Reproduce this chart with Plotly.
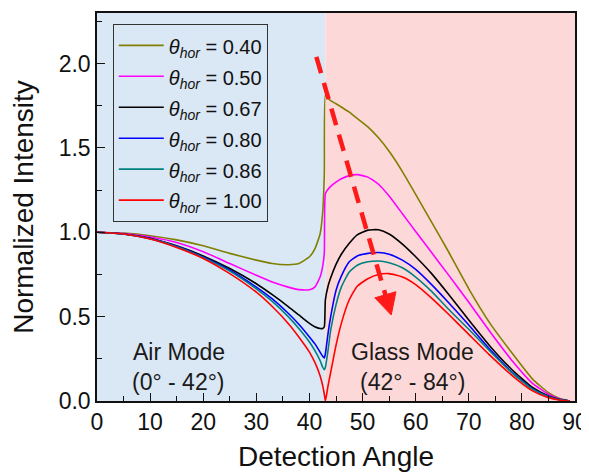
import plotly.graph_objects as go

# ---------------- data ----------------
angle = [0, 5, 10, 15, 20, 25, 30, 33, 36, 38, 40, 41, 42, 42.5, 42.8, 43.0,
         43.5, 44, 45, 46, 47.5, 49, 51, 53, 55, 57.5, 60, 63, 66, 70, 74, 78,
         82, 85, 87, 89]

theta_040 = [1.0, 0.995, 0.98, 0.955, 0.92, 0.875, 0.835, 0.815, 0.808, 0.815, 0.855, 0.90, 0.99, 1.12, 1.35, 1.815,
             1.795, 1.78, 1.762, 1.743, 1.712, 1.675, 1.625, 1.56, 1.48, 1.36, 1.225, 1.06, 0.895, 0.665, 0.46, 0.29,
             0.13, 0.05, 0.017, 0.0]
theta_050 = [1.0, 0.993, 0.972, 0.94, 0.885, 0.815, 0.745, 0.705, 0.675, 0.66, 0.66, 0.675, 0.735, 0.80, 0.88, 1.23,
             1.255, 1.272, 1.297, 1.317, 1.336, 1.342, 1.327, 1.285, 1.215, 1.11, 1.005, 0.88, 0.755, 0.585, 0.41, 0.245,
             0.105, 0.04, 0.013, 0.0]
theta_067 = [1.0, 0.99, 0.965, 0.92, 0.86, 0.785, 0.695, 0.63, 0.56, 0.51, 0.46, 0.44, 0.43, 0.43, 0.44, 0.60,
             0.68, 0.73, 0.81, 0.87, 0.935, 0.985, 1.013, 1.015, 0.99, 0.93, 0.855, 0.755, 0.64, 0.48, 0.325, 0.19,
             0.08, 0.03, 0.01, 0.0]
theta_080 = [1.0, 0.99, 0.963, 0.917, 0.853, 0.775, 0.675, 0.605, 0.52, 0.455, 0.38, 0.34, 0.29, 0.265, 0.255, 0.28,
             0.40, 0.50, 0.655, 0.74, 0.825, 0.86, 0.875, 0.88, 0.87, 0.835, 0.78, 0.69, 0.59, 0.45, 0.305, 0.175,
             0.072, 0.026, 0.009, 0.0]
theta_086 = [1.0, 0.99, 0.962, 0.915, 0.85, 0.77, 0.665, 0.59, 0.50, 0.43, 0.35, 0.30, 0.24, 0.20, 0.185, 0.20,
             0.30, 0.42, 0.57, 0.675, 0.765, 0.805, 0.825, 0.83, 0.82, 0.79, 0.735, 0.65, 0.55, 0.425, 0.295, 0.17,
             0.07, 0.025, 0.008, 0.0]
theta_100 = [1.0, 0.99, 0.96, 0.91, 0.845, 0.755, 0.645, 0.56, 0.46, 0.38, 0.29, 0.23, 0.15, 0.09, 0.04, 0.0,
             0.09, 0.17, 0.33, 0.46, 0.60, 0.68, 0.725, 0.75, 0.755, 0.735, 0.69, 0.61, 0.52, 0.395, 0.27, 0.155,
             0.06, 0.02, 0.006, 0.0]

series_values = [theta_040, theta_050, theta_067, theta_080, theta_086, theta_100]
series_labels = ["0.40", "0.50", "0.67", "0.80", "0.86", "1.00"]
series_colors = ["#808000", "#ff00ff", "#000000", "#0000ff", "#008080", "#ff0000"]

critical_angle = 43.0
x_range = [0, 90]
y_range = [0, 2.3]

# ---------------- layout geometry ----------------
# the page body adds an 8px offset, so the figure is 8px smaller than the window
W, H = 581, 464
ML, MR, MT, MB = 89, 14, 5, 71
PW, PH = W - ML - MR, H - MT - MB
FONT = "Liberation Sans, Arial, sans-serif"


def px_to_data(px, py):
    x = x_range[0] + (px - ML) / PW * (x_range[1] - x_range[0])
    y = y_range[0] + (MT + PH - py) / PH * (y_range[1] - y_range[0])
    return x, y


def data_to_px(x, y):
    px = ML + (x - x_range[0]) / (x_range[1] - x_range[0]) * PW
    py = MT + PH - (y - y_range[0]) / (y_range[1] - y_range[0]) * PH
    return px, py


fig = go.Figure()
for vals, lab, col in zip(series_values, series_labels, series_colors):
    fig.add_trace(go.Scatter(
        x=angle, y=vals, mode="lines",
        line=dict(color=col, width=1.6, shape="spline", smoothing=0.5),
        name=(f'<span style="font-size:20px"><i>θ</i><sub><i>hor</i></sub>'
              f' = {lab}</span>'),
    ))

# background regions
fig.add_shape(type="rect", xref="x", yref="y", x0=x_range[0], x1=critical_angle,
              y0=y_range[0], y1=y_range[1], fillcolor="#dae7f4", line_width=0, layer="below")
fig.add_shape(type="rect", xref="x", yref="y", x0=critical_angle, x1=x_range[1],
              y0=y_range[0], y1=y_range[1], fillcolor="#fdd8d8", line_width=0, layer="below")

# dashed red arrow
arrow_start = (41.3, 2.04)
arrow_tip = (55.4, 0.51)
sx, sy = data_to_px(*arrow_start)
tx, ty = data_to_px(*arrow_tip)
dx, dy = tx - sx, ty - sy
L = (dx ** 2 + dy ** 2) ** 0.5
ux, uy = dx / L, dy / L
head_len, head_half = 21, 11
bx, by = tx - ux * head_len, ty - uy * head_len
ex, ey = px_to_data(bx + ux * 2, by + uy * 2)
fig.add_shape(type="line", xref="x", yref="y", x0=arrow_start[0], y0=arrow_start[1],
              x1=ex, y1=ey, line=dict(color="#ff1a1a", width=4.5, dash="17px,10px"))
p1 = px_to_data(bx - uy * head_half, by + ux * head_half)
p2 = px_to_data(bx + uy * head_half, by - ux * head_half)
fig.add_shape(type="path", xref="x", yref="y",
              path=f"M{arrow_tip[0]},{arrow_tip[1]} L{p1[0]},{p1[1]} L{p2[0]},{p2[1]} Z",
              fillcolor="#ff1a1a", line=dict(color="#ff1a1a", width=1))

# region text
for txt, x, y in [("Air Mode", 15.4, 0.29), ("(0° - 42°)", 15.4, 0.115),
                  ("Glass Mode", 59.4, 0.29), ("(42° - 84°)", 59.4, 0.115)]:
    fig.add_annotation(x=x, y=y, xref="x", yref="y", text=txt, showarrow=False,
                       font=dict(family=FONT, size=23, color="#1a1a1a"))

fig.update_layout(
    width=W, height=H,
    margin=dict(l=ML, r=MR, t=MT, b=MB, autoexpand=False),
    paper_bgcolor="white", plot_bgcolor="white",
    font=dict(family=FONT, color="#111"),
    showlegend=True,
    legend=dict(x=0.033, y=0.972, xanchor="left", yanchor="top",
                bgcolor="rgba(0,0,0,0)", bordercolor="#333", borderwidth=1,
                itemwidth=45,
                font=dict(family=FONT, size=21.5, color="#111"), tracegroupgap=0),
)
fig.update_xaxes(range=x_range, tickmode="array", tickvals=list(range(0, 91, 10)),
                 ticks="inside", ticklen=8, tickwidth=1.3, tickcolor="#111",
                 minor=dict(ticks="inside", ticklen=5, tickwidth=1.3, tickcolor="#111", dtick=5),
                 showline=True, linecolor="#111", linewidth=1.5, mirror=True,
                 showgrid=False, zeroline=False, automargin=False,
                 tickfont=dict(family=FONT, size=23, color="#111"),
                 title=dict(text="Detection Angle", font=dict(family=FONT, size=28, color="#111")))
fig.update_yaxes(range=y_range, tickmode="array", tickvals=[0, 0.5, 1.0, 1.5, 2.0],
                 ticktext=["0.0", "0.5", "1.0", "1.5", "2.0"],
                 ticks="inside", ticklen=8, tickwidth=1.3, tickcolor="#111",
                 minor=dict(ticks="inside", ticklen=5, tickwidth=1.3, tickcolor="#111", dtick=0.25),
                 showline=True, linecolor="#111", linewidth=1.5, mirror=True,
                 showgrid=False, zeroline=False, automargin=True,
                 tickfont=dict(family=FONT, size=23, color="#111"),
                 title=dict(text="Normalized Intensity", standoff=19,
                            font=dict(family=FONT, size=28, color="#111")))

fig.write_html("out.html")
